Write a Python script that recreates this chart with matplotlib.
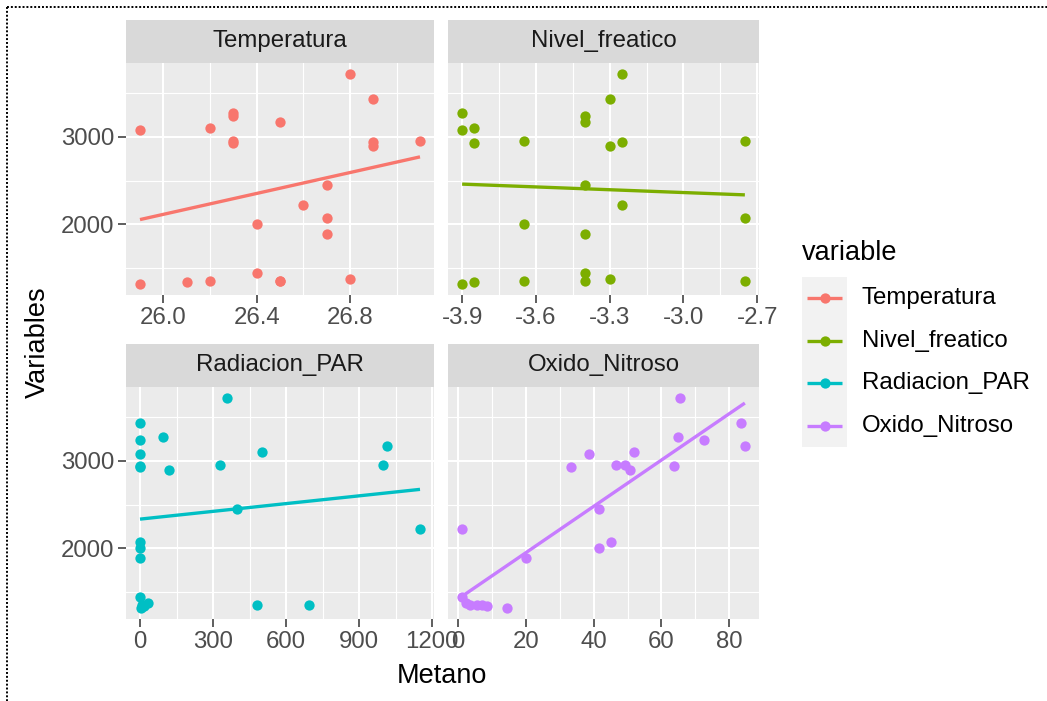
import matplotlib
matplotlib.use("Agg")
import matplotlib.pyplot as plt
from matplotlib.patches import Rectangle
import numpy as np

plt.rcParams['font.family'] = ['Liberation Sans', 'DejaVu Sans']
plt.rcParams['axes.unicode_minus'] = False

# ---------------- data ----------------
metano = [3725, 3435, 3275, 3235, 3165, 3105, 3075, 2955, 2950, 2945, 2935, 2895,
          2450, 2215, 2075, 2000, 1885,
          1445, 1375, 1350, 1345, 1345, 1335, 1310]
temperatura = [26.8, 26.9, 26.3, 26.3, 26.5, 26.2, 25.9, 26.3, 27.1, 26.9, 26.3, 26.9,
               26.7, 26.6, 26.7, 26.4, 26.7,
               26.4, 26.8, 26.5, 26.2, 26.5, 26.1, 25.9]
nivel_freatico = [-3.25, -3.30, -3.90, -3.40, -3.40, -3.85, -3.90, -3.65, -2.75, -3.25, -3.85, -3.30,
                  -3.40, -3.25, -2.75, -3.65, -3.40,
                  -3.40, -3.30, -2.75, -3.65, -3.40, -3.85, -3.90]
radiacion_par = [358, 0, 95, 0, 1015, 503, 0, 329, 997, 0, 0, 118,
                 399, 1150, 0, 0, 0,
                 0, 34, 479, 694, 8, 15, 5]
oxido_nitroso = [65.5, 83.6, 64.8, 72.4, 84.6, 52.0, 38.6, 46.6, 49.3, 63.7, 33.3, 50.8,
                 41.6, 1.2, 45.1, 41.6, 20.0,
                 1.2, 2.2, 3.5, 5.5, 7.0, 8.5, 14.5]

variables = ["Temperatura", "Nivel_freatico", "Radiacion_PAR", "Oxido_Nitroso"]
x_values = [temperatura, nivel_freatico, radiacion_par, oxido_nitroso]
x_major = [[26.0, 26.4, 26.8], [-3.9, -3.6, -3.3, -3.0, -2.7],
           [0, 300, 600, 900, 1200], [0, 20, 40, 60, 80]]
x_labels = [["26.0", "26.4", "26.8"], ["-3.9", "-3.6", "-3.3", "-3.0", "-2.7"],
            ["0", "300", "600", "900", "1200"], ["0", "20", "40", "60", "80"]]
y_major = [2000, 3000]
y_labels = ["2000", "3000"]
colors = ["#F8766D", "#7CAE00", "#00BFC4", "#C77CFF"]

# ---------------- layout ----------------
W, H = 1047, 701
fig = plt.figure(figsize=(W / 100, H / 100), dpi=100)


def px_axes(x0, y0, x1, y1, **kw):
    return fig.add_axes([x0 / W, 1 - y1 / H, (x1 - x0) / W, (y1 - y0) / H], **kw)


panel_boxes = [(126, 63, 434, 295), (448, 63, 759, 295),
               (126, 387, 434, 619), (448, 387, 759, 619)]
strip_h = 43

TICK_FS = 17.3
TITLE_FS = 19.5
PT_SIZE = 55

yarr = np.array(metano, dtype=float)
yr = yarr.max() - yarr.min()
ylim = (yarr.min() - 0.05 * yr, yarr.max() + 0.05 * yr)


def minors(major, lo, hi):
    step = major[1] - major[0]
    m = [major[0] - step / 2] + [a + step / 2 for a in major]
    return [v for v in m if lo <= v <= hi]


for i, (name, xs, col) in enumerate(zip(variables, x_values, colors)):
    x0, y0, x1, y1 = panel_boxes[i]
    ax = px_axes(x0, y0, x1, y1)
    ax.set_facecolor("#EBEBEB")
    for s in ax.spines.values():
        s.set_visible(False)
    xarr = np.array(xs, dtype=float)
    xr = xarr.max() - xarr.min()
    xlim = (xarr.min() - 0.05 * xr, xarr.max() + 0.05 * xr)
    ax.set_xlim(*xlim)
    ax.set_ylim(*ylim)

    ax.set_xticks(x_major[i])
    ax.set_xticklabels(x_labels[i])
    ax.set_xticks(minors(x_major[i], *xlim), minor=True)
    ax.set_yticks(y_major)
    ax.set_yticks(minors(y_major, *ylim), minor=True)
    ax.grid(which="major", color="white", lw=1.5)
    ax.grid(which="minor", color="white", lw=0.8)
    ax.set_axisbelow(True)
    ax.tick_params(which="minor", length=0)
    ax.tick_params(which="major", length=5.5, width=1.1, color="#333333",
                   labelsize=TICK_FS, labelcolor="#4D4D4D", pad=3)
    if i % 2 == 0:
        ax.set_yticklabels(y_labels)
    else:
        ax.tick_params(axis="y", left=False, labelleft=False)

    ax.scatter(xarr, yarr, s=PT_SIZE, color=col, linewidths=0, zorder=2, clip_on=False)
    coef = np.polyfit(xarr, yarr, 1)
    xl = np.array([xarr.min(), xarr.max()])
    ax.plot(xl, np.polyval(coef, xl), color=col, lw=2.4, zorder=3, solid_capstyle="butt")

    # strip
    sax = px_axes(x0, y0 - strip_h, x1, y0)
    sax.set_facecolor("#D9D9D9")
    sax.set_xticks([])
    sax.set_yticks([])
    for s in sax.spines.values():
        s.set_visible(False)
    sax.text(0.5, 0.5, name, transform=sax.transAxes, ha="center", va="center",
             fontsize=TICK_FS, color="#1A1A1A")

# overlay for titles, legend and border
ov = fig.add_axes([0, 0, 1, 1], zorder=-1)
ov.set_xlim(0, W)
ov.set_ylim(H, 0)
ov.axis("off")

fig.text(442 / W, 1 - 676 / H, "Metano", ha="center", va="center", fontsize=TITLE_FS, color="black")
fig.text(38 / W, 1 - 342 / H, "Variables", ha="center", va="center", rotation=90,
         fontsize=TITLE_FS, color="black")

# legend
fig.text(801.5 / W, 1 - 253 / H, "variable", ha="left", va="center", fontsize=TITLE_FS, color="black")
key_top, key_h, key_x0, key_x1 = 277, 42.5, 802, 847
for j, (name, col) in enumerate(zip(variables, colors)):
    ky = key_top + j * key_h
    ov.add_patch(Rectangle((key_x0, ky), key_x1 - key_x0, key_h, facecolor="#F2F2F2", edgecolor="none"))
    cy = ky + key_h / 2
    ov.plot([key_x0 + 5, key_x1 - 5], [cy, cy], color=col, lw=2.4, solid_capstyle="butt")
    ov.scatter([(key_x0 + key_x1) / 2], [cy], s=PT_SIZE, color=col, linewidths=0)
    ov.text(861.5, cy, name, ha="left", va="center", fontsize=TICK_FS, color="black")

# dotted border of the screenshot
ov.plot([7, W], [7, 7], color="black", lw=1.4, linestyle=(0, (1, 1)))
ov.plot([7, 7], [7, H], color="black", lw=1.4, linestyle=(0, (1, 1)))

fig.savefig("out.png", dpi=100, facecolor="white")
